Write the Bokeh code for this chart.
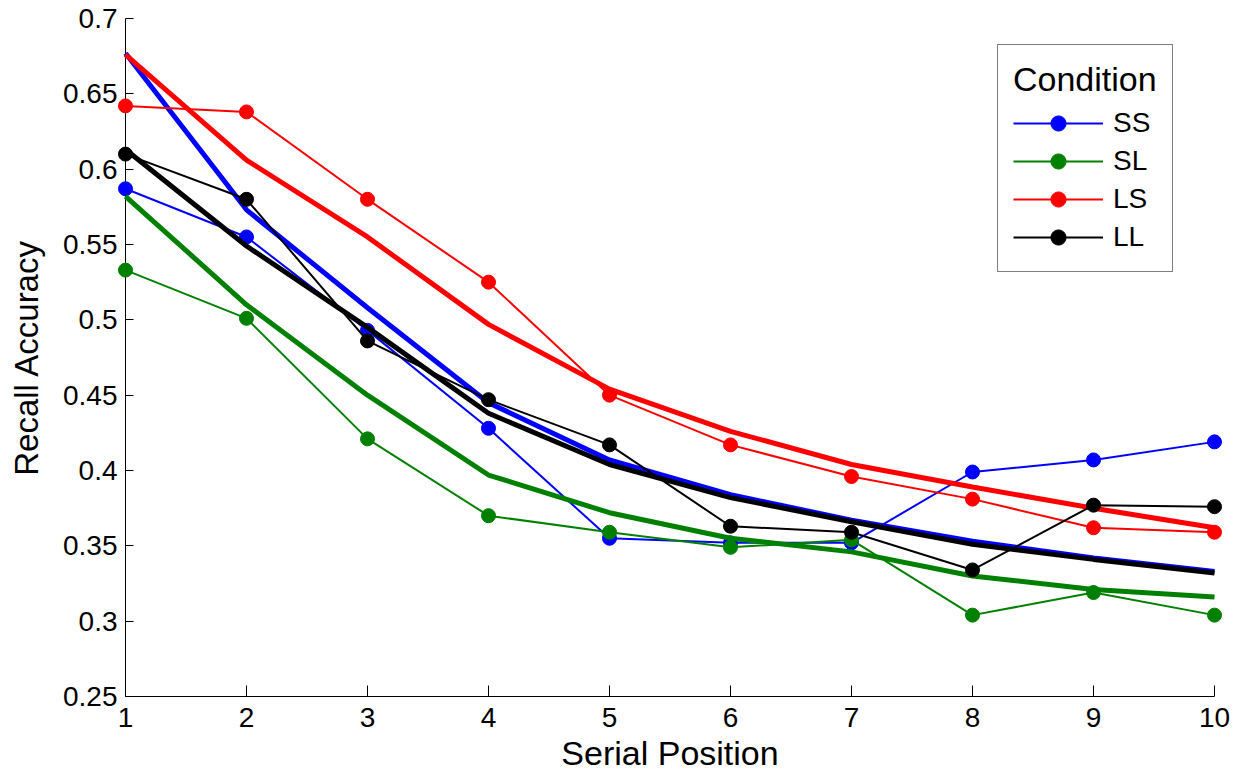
from bokeh.plotting import figure
from bokeh.models import Range1d, FixedTicker, Legend, LegendItem
from bokeh.embed import file_html
from bokeh.resources import INLINE

# ---- data ----
positions = [1, 2, 3, 4, 5, 6, 7, 8, 9, 10]
x_ticks = [1, 2, 3, 4, 5, 6, 7, 8, 9, 10]
y_ticks = [0.25, 0.3, 0.35, 0.4, 0.45, 0.5, 0.55, 0.6, 0.65, 0.7]
y_tick_labels = ["0.25", "0.3", "0.35", "0.4", "0.45", "0.5", "0.55", "0.6", "0.65", "0.7"]

conditions = ["SS", "SL", "LS", "LL"]
colors = ["#0000ff", "#008000", "#ff0000", "#000000"]

ss_data = [0.587, 0.555, 0.493, 0.428, 0.355, 0.352, 0.352, 0.399, 0.407, 0.419]
sl_data = [0.533, 0.501, 0.421, 0.370, 0.359, 0.349, 0.354, 0.304, 0.319, 0.304]
ls_data = [0.642, 0.638, 0.580, 0.525, 0.450, 0.417, 0.396, 0.381, 0.362, 0.359]
ll_data = [0.610, 0.580, 0.486, 0.447, 0.417, 0.363, 0.359, 0.334, 0.377, 0.376]

ss_fit = [0.677, 0.573, 0.508, 0.445, 0.407, 0.384, 0.367, 0.353, 0.342, 0.333]
sl_fit = [0.582, 0.510, 0.450, 0.397, 0.372, 0.355, 0.346, 0.330, 0.321, 0.316]
ls_fit = [0.676, 0.606, 0.555, 0.497, 0.454, 0.426, 0.404, 0.389, 0.375, 0.362]
ll_fit = [0.613, 0.549, 0.495, 0.438, 0.404, 0.382, 0.366, 0.351, 0.341, 0.332]

data_series = [ss_data, sl_data, ls_data, ll_data]
fit_series = [ss_fit, sl_fit, ls_fit, ll_fit]

FONT = "Liberation Sans"

p = figure(width=1241, height=774, output_backend="svg", toolbar_location=None,
           x_range=Range1d(1, 10), y_range=Range1d(0.25, 0.7),
           min_border_left=125, min_border_right=27, min_border_top=18,
           min_border_bottom=77)
p.outline_line_color = None
p.grid.visible = False
p.background_fill_color = "white"
p.border_fill_color = "white"

p.xaxis.ticker = FixedTicker(ticks=x_ticks)
p.yaxis.ticker = FixedTicker(ticks=y_ticks)
p.yaxis.major_label_overrides = {t: l for t, l in zip(y_ticks, y_tick_labels)}

for ax in (p.xaxis[0], p.yaxis[0]):
    ax.minor_tick_line_color = None
    ax.major_tick_out = 0
    ax.axis_line_color = "black"
    ax.axis_line_width = 1
    ax.major_tick_line_color = "black"
    ax.major_tick_line_width = 1
    ax.major_label_text_font = FONT
    ax.major_label_text_font_size = "28px"
    ax.major_label_text_color = "black"
    ax.axis_label_text_font = FONT
    ax.axis_label_text_font_size = "34px"
    ax.axis_label_text_font_style = "normal"
    ax.axis_label_text_color = "black"

p.yaxis.axis_label_text_font_size = "33px"
p.xaxis.major_tick_in = 11
p.yaxis.major_tick_in = 8
p.xaxis.axis_label = "Serial Position"
p.yaxis.axis_label = "Recall Accuracy"
p.xaxis.major_label_standoff = 11
p.xaxis.axis_label_standoff = 4
p.yaxis.major_label_standoff = 8
p.yaxis.axis_label_standoff = 15

items = []
for name, col, d, f in zip(conditions, colors, data_series, fit_series):
    lr = p.line(positions, d, line_color=col, line_width=2, level="overlay")
    sr = p.scatter(positions, d, marker="circle", size=14, fill_color=col,
                   line_color=col, level="overlay")
    p.line(positions, f, line_color=col, line_width=5, level="overlay")
    items.append(LegendItem(label=name, renderers=[lr, sr]))

legend = Legend(items=items, location=(872, 424), title="Condition",
                title_text_font=FONT, title_text_font_size="34px",
                title_text_font_style="normal", title_text_color="black",
                title_standoff=5,
                label_text_font=FONT, label_text_font_size="28px",
                label_text_color="black",
                glyph_width=90, glyph_height=38, label_height=38,
                label_standoff=10, spacing=0, padding=15, margin=0,
                border_line_color="black", border_line_width=1,
                background_fill_color="white", background_fill_alpha=1.0)
p.add_layout(legend)

open("out.html", "w").write(file_html(p, INLINE))
